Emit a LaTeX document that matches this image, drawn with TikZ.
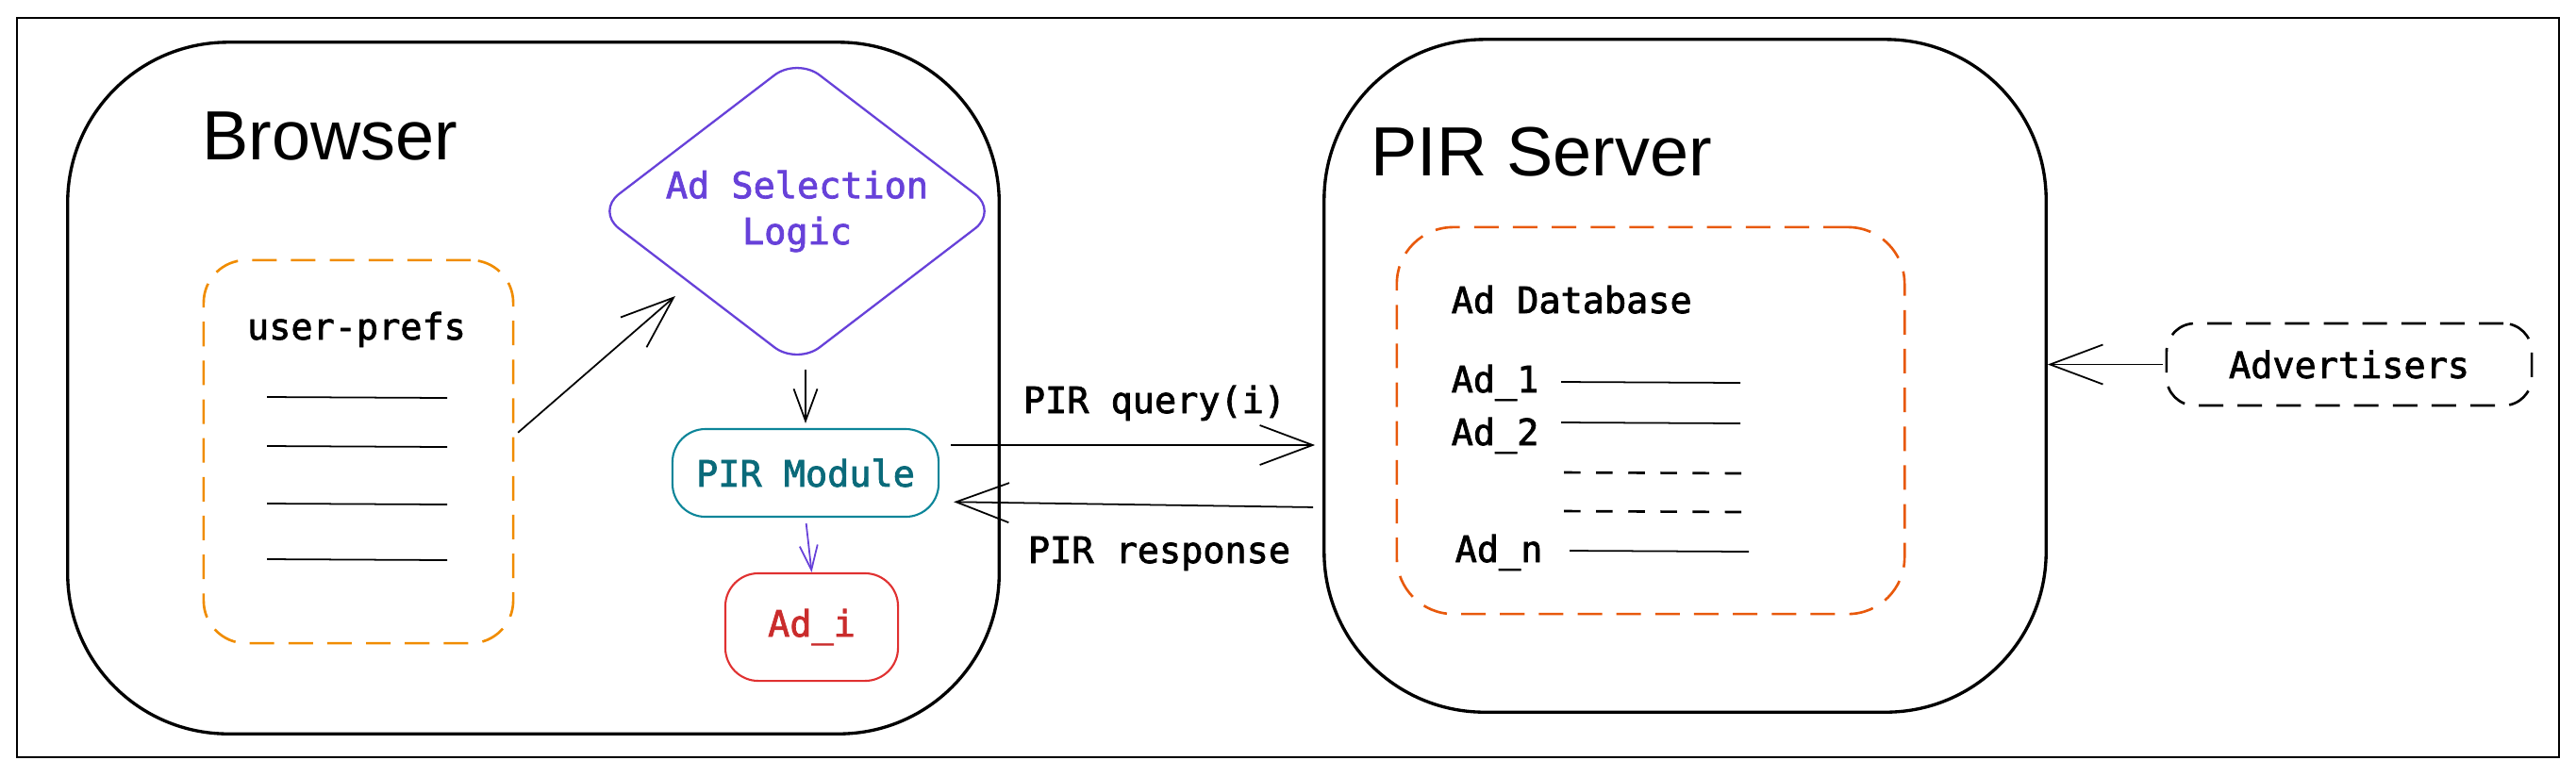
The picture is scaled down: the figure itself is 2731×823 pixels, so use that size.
\documentclass[tikz,border=0pt]{standalone}
\usepackage{fontspec}
\newfontfamily\headfont{Liberation Sans}
\newfontfamily\codefont[BoldFont={DejaVu Sans Mono},BoldFeatures={FakeBold=2}]{DejaVu Sans Mono}
\usetikzlibrary{arrows.meta,shapes.geometric}
\definecolor{prefsorange}{HTML}{F08C00}
\definecolor{dborange}{HTML}{E8590C}
\definecolor{logicpurple}{HTML}{6741D9}
\definecolor{moduleteal}{HTML}{0C8599}
\definecolor{adred}{HTML}{E03131}

\begin{document}
\begin{tikzpicture}[x=0.01cm,y=-0.01cm,
  code/.style={font=\codefont\bfseries\fontsize{10.95}{13.9}\selectfont},
  head/.style={font=\headfont\fontsize{21}{25}\selectfont},
  bigbox/.style={draw,line width=0.95pt,rounded corners=1.7cm,inner sep=0},
  dashbox/.style={draw,line width=0.75pt,dash pattern=on 7.4pt off 4.3pt,inner sep=0},
  smallbox/.style={draw,line width=0.6pt,rounded corners=3.5mm,inner sep=0},
  bigarr/.style={-{Straight Barb[length=5.6mm,width=4.2mm]},line width=0.5pt},
  midarr/.style={-{Straight Barb[length=3.4mm,width=2.5mm]},line width=0.5pt},
  smallarr/.style={-{Straight Barb[length=2.6mm,width=1.9mm]},line width=0.5pt}]
\useasboundingbox (0,0) rectangle (2731,823);

\node[draw,line width=0.65pt,minimum width=26.93cm,minimum height=7.84cm,inner sep=0](frame) at (1365.5,411) {};

\node[bigbox,minimum width=9.87cm,minimum height=7.33cm](browser) at (565.5,411.5) {};
\node[head,anchor=base west,inner sep=0](browserlabel) at (214,169) {Browser};

\node[bigbox,minimum width=7.65cm,minimum height=7.13cm](server) at (1786.5,398.5) {};
\node[head,anchor=base west,inner sep=0](serverlabel) at (1453,186) {PIR Server};

\node[dashbox,prefsorange,rounded corners=4.5mm,minimum width=3.28cm,minimum height=4.06cm](prefs) at (380,479) {};
\node[code,anchor=base](prefslabel) at (378,360) {user-prefs};
\draw[line width=0.5pt] (283,421) -- (474,422);
\draw[line width=0.5pt] (283,473) -- (474,474);
\draw[line width=0.5pt] (283,534) -- (474,535);
\draw[line width=0.5pt] (283,593) -- (474,594);

\node[draw,logicpurple,line width=0.65pt,diamond,aspect=1.307,rounded corners=3mm,minimum width=4.26cm,minimum height=3.26cm,inner sep=0,
  code,text=logicpurple,align=center](logic) at (845,224) {Ad Selection\\Logic};

\node[smallbox,moduleteal,text=moduleteal!80!black,code,minimum width=2.82cm,minimum height=0.93cm](pirmod) at (854,501.5) {PIR Module};
\node[smallbox,adred,text=adred!90!black,code,minimum width=1.83cm,minimum height=1.14cm](adi) at (860.5,665) {Ad\_i};

\node[dashbox,dborange,rounded corners=6mm,minimum width=5.38cm,minimum height=4.10cm](db) at (1750,446) {};
\node[code,anchor=base west,inner sep=0](dblabel) at (1538,332) {Ad Database};
\node[code,anchor=base west,inner sep=0](ad1) at (1538,416) {Ad\_1};
\node[code,anchor=base west,inner sep=0](ad2) at (1538,472) {Ad\_2};
\node[code,anchor=base west,inner sep=0](adn) at (1542,596) {Ad\_n};
\draw[line width=0.5pt] (1655,405) -- (1845,406);
\draw[line width=0.5pt] (1655,448) -- (1845,449);
\draw[line width=0.75pt,dash pattern=on 5pt off 4.7pt] (1658,501) -- (1847,502);
\draw[line width=0.75pt,dash pattern=on 5pt off 4.7pt] (1658,542) -- (1847,543);
\draw[line width=0.5pt] (1664,584) -- (1854,585);

\node[dashbox,rounded corners=3mm,minimum width=3.87cm,minimum height=0.87cm,code](adv) at (2490.5,386.5) {Advertisers};

\draw[bigarr,shorten <=0.05cm,shorten >=0.2cm] ([yshift=1.7mm]prefs.east) -- (logic.214);
\draw[midarr,shorten <=0.04cm,shorten >=0.05cm] (pirmod.north |- logic.south) -- (pirmod.north);
\draw[smallarr,logicpurple,shorten <=0.06cm] (pirmod.south) -- (adi.north);

\draw[bigarr,shorten <=0.12cm,shorten >=0.08cm] ([yshift=2.95mm]pirmod.east) -- ([yshift=2.95mm]pirmod.east -| server.west);
\node[code,anchor=base](querylabel) at (1224,438) {PIR query(i)};
\draw[bigarr,shorten <=0.1cm,shorten >=0.15cm] ([yshift=-13.95mm]server.west) -- ([yshift=-3.05mm]pirmod.east);
\node[code,anchor=base](resplabel) at (1229,597) {PIR response};

\draw[bigarr,shorten <=0.03cm] (adv.west) -- (adv.west -| server.east);
\end{tikzpicture}
\end{document}
